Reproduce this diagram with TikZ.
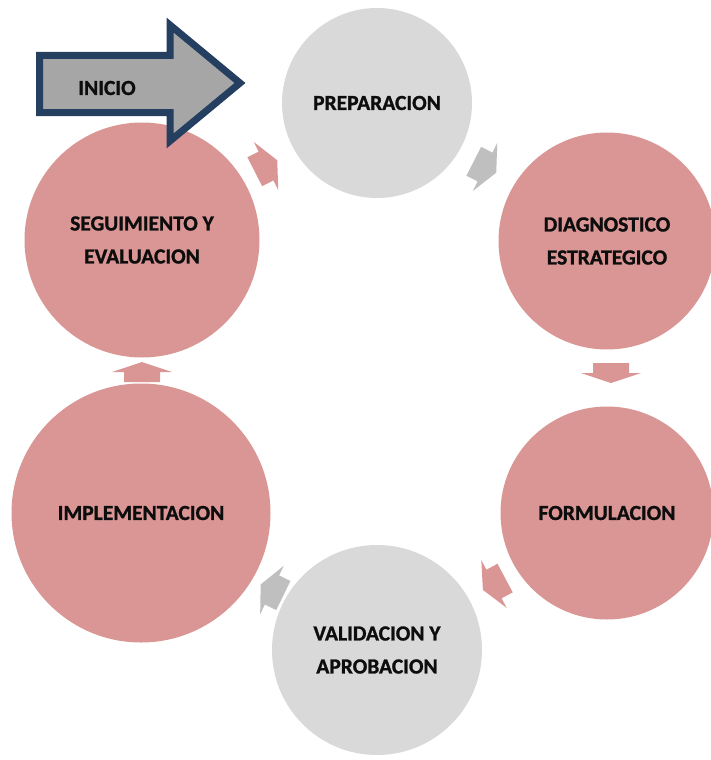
\documentclass[tikz,border=0pt]{standalone}
\usepackage{fontspec}
\setmainfont{Carlito}[BoldFeatures={FakeBold=1.2}]
\definecolor{rosa}{HTML}{D99694}
\definecolor{gris}{HTML}{D9D9D9}
\definecolor{grisflecha}{HTML}{BFBFBF}
\definecolor{grisinicio}{HTML}{A6A6A6}
\definecolor{azul}{HTML}{243F60}
\tikzset{
  etapa/.style={circle, inner sep=0pt, align=center},
  pics/flecha/.style={code={
    \fill[pic actions] (-10,-18) -- (0,-18) -- (0,-30) -- (10,0) -- (0,30) -- (0,18) -- (-10,18) -- cycle;
  }}
}
\begin{document}
\begin{tikzpicture}[x=1pt, y=-1pt, every node/.style={font=\bfseries\fontsize{21.5}{33}\selectfont, text=black!95}]
    \useasboundingbox (0,0) rectangle (711,760);

    % Etapas
    \node (seg) [etapa, fill=rosa, minimum size=235pt] at (142,240) {SEGUIMIENTO Y\\EVALUACION};
    \node (prep) [etapa, fill=gris, minimum size=190pt] at (377,103) {PREPARACION};
    \node (diag) [etapa, fill=rosa, minimum size=217pt] at (607,241) {DIAGNOSTICO\\ESTRATEGICO};
    \node (form) [etapa, fill=rosa, minimum size=213pt] at (607,513) {FORMULACION};
    \node (valid) [etapa, fill=gris, minimum size=210pt] at (377,650) {VALIDACION Y\\APROBACION};
    \node (impl) [etapa, fill=rosa, minimum size=259pt] at (141,513) {IMPLEMENTACION};

    % Flechas del ciclo
    \path (266,166) pic[fill=rosa, rotate=27, scale=0.9, xscale=1.4] {flecha};
    \path (485,167) pic[fill=grisflecha, rotate=-27, scale=0.9, xscale=1.4] {flecha};
    \path (611,373) pic[fill=rosa, rotate=-90] {flecha};
    \path (494,584) pic[fill=rosa, rotate=-152, scale=0.9, xscale=1.4] {flecha};
    \path (272,590) pic[fill=grisflecha, rotate=154, scale=0.9, xscale=1.4] {flecha};
    \path (142,372) pic[fill=rosa, rotate=90] {flecha};

    % Inicio
    \draw[azul, fill=grisinicio, line width=7pt, miter limit=10]
      (39.5,55.5) -- (170,55.5) -- (170,25) -- (240,83) -- (170,141) -- (170,112.5) -- (39.5,112.5) -- cycle;
    \node (inicio) at (107,88) {INICIO};

\end{tikzpicture}
\end{document}
